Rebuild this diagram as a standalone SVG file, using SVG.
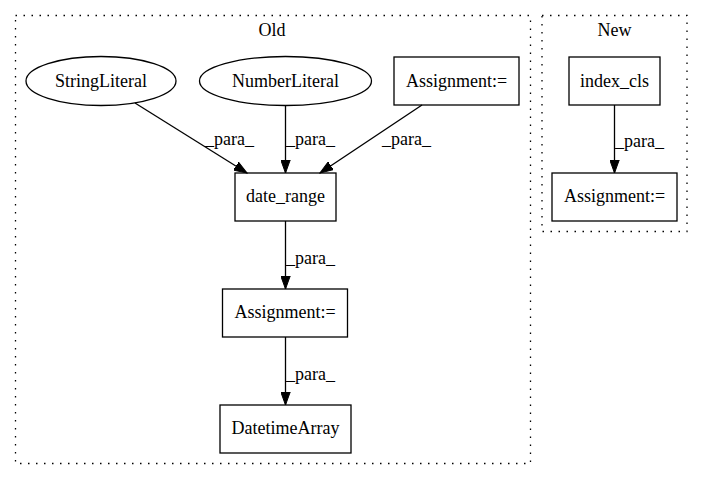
<svg xmlns="http://www.w3.org/2000/svg" width="704" height="480" viewBox="0 0 704 480">
<style>
text{font-family:"Liberation Serif","Times New Roman",serif;font-size:18px;fill:#000;text-anchor:middle}
.lbl{text-anchor:start}
.node{fill:#fff;stroke:#000;stroke-width:1.3}
.cluster{fill:none;stroke:#000;stroke-width:1.3;stroke-dasharray:1.5,6.5}
.edge{fill:none;stroke:#000;stroke-width:1.3}
</style>
<defs>
<marker id="arr" markerUnits="userSpaceOnUse" markerWidth="14" markerHeight="10" refX="13" refY="5" orient="auto">
<path d="M0,0.3 L13,5 L0,9.7 Z" fill="#000" stroke="#000" stroke-width="1"/>
</marker>
</defs>
<rect width="704" height="480" fill="#fff"/>
<g id="cluster_old">
<rect class="cluster" x="15.5" y="15.5" width="515" height="448"/>
<text x="272" y="36">Old</text>
</g>
<g id="cluster_new">
<rect class="cluster" x="542" y="15.5" width="145" height="216"/>
<text x="614.5" y="36">New</text>
</g>
<g id="StringLiteral">
<ellipse class="node" cx="101" cy="81" rx="75" ry="24.5"/>
<text x="101" y="87">StringLiteral</text>
</g>
<g id="NumberLiteral">
<ellipse class="node" cx="285.5" cy="81" rx="86" ry="24.5"/>
<text x="285.5" y="87">NumberLiteral</text>
</g>
<g id="Assignment_top">
<rect class="node" x="394" y="57" width="125" height="48"/>
<text x="456.5" y="87">Assignment:=</text>
</g>
<g id="date_range">
<rect class="node" x="235" y="173" width="101" height="48"/>
<text x="285.5" y="202">date_range</text>
</g>
<g id="Assignment_mid">
<rect class="node" x="222.5" y="289" width="125" height="48"/>
<text x="285" y="318">Assignment:=</text>
</g>
<g id="DatetimeArray">
<rect class="node" x="220" y="405" width="131" height="48"/>
<text x="285.5" y="434">DatetimeArray</text>
</g>
<g id="index_cls">
<rect class="node" x="569" y="57" width="91" height="48"/>
<text x="614.5" y="87">index_cls</text>
</g>
<g id="Assignment_new">
<rect class="node" x="552" y="173" width="125" height="48"/>
<text x="614.5" y="202">Assignment:=</text>
</g>
<g id="connectors">
<line class="edge" x1="135" y1="103" x2="247" y2="173" marker-end="url(#arr)"/>
<text class="lbl" x="205" y="145">_para_</text>
<line class="edge" x1="285.5" y1="105.5" x2="285.5" y2="173" marker-end="url(#arr)"/>
<text class="lbl" x="286" y="145">_para_</text>
<line class="edge" x1="422" y1="105" x2="320" y2="173" marker-end="url(#arr)"/>
<text class="lbl" x="382" y="145">_para_</text>
<line class="edge" x1="285.5" y1="221" x2="285.5" y2="289" marker-end="url(#arr)"/>
<text class="lbl" x="286" y="264">_para_</text>
<line class="edge" x1="285.5" y1="337" x2="285.5" y2="405" marker-end="url(#arr)"/>
<text class="lbl" x="286" y="380">_para_</text>
<line class="edge" x1="614.5" y1="105" x2="614.5" y2="173" marker-end="url(#arr)"/>
<text class="lbl" x="615" y="147">_para_</text>
</g>
</svg>
